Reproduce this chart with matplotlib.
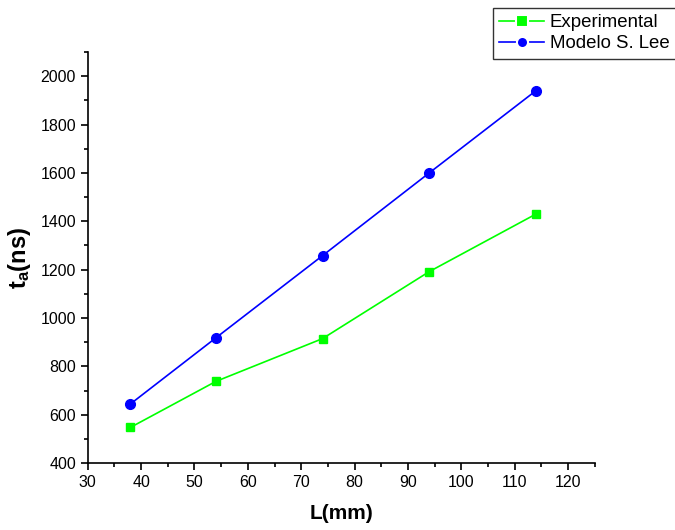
import matplotlib.pyplot as plt
from matplotlib.ticker import MultipleLocator

plt.rcParams['font.family'] = 'Liberation Sans'
plt.rcParams['mathtext.fontset'] = 'custom'
plt.rcParams['mathtext.rm'] = 'Liberation Sans'
plt.rcParams['mathtext.bf'] = 'Liberation Sans:bold'

# data
L_mm = [38, 54, 74, 94, 114]
experimental = [548, 738, 915, 1192, 1430]
modelo_lee = [645, 918, 1258, 1600, 1940]

fig = plt.figure(figsize=(6.75, 5.3), dpi=100)
ax = fig.add_axes([0.130, 0.126, 0.751, 0.776])

ax.plot(L_mm, experimental, color='#00ff00', marker='s', markersize=6,
        linewidth=1.2, label='Experimental')
ax.plot(L_mm, modelo_lee, color='#0000ff', marker='o', markersize=7,
        linewidth=1.2, label='Modelo S. Lee')

ax.set_xlim(30, 125)
ax.set_ylim(400, 2100)
ax.xaxis.set_major_locator(MultipleLocator(10))
ax.xaxis.set_minor_locator(MultipleLocator(5))
ax.yaxis.set_major_locator(MultipleLocator(200))
ax.yaxis.set_minor_locator(MultipleLocator(100))
ax.set_xticks(range(30, 121, 10))

for s in ['top', 'right']:
    ax.spines[s].set_visible(False)
for s in ['left', 'bottom']:
    ax.spines[s].set_linewidth(1.2)
ax.tick_params(which='major', direction='out', length=5, width=1.2, labelsize=11.5)
ax.tick_params(which='minor', direction='out', length=3, width=1.2)

ax.set_xlabel('L(mm)', fontsize=15, fontweight='bold', labelpad=10)
ax.set_ylabel(r'$\mathbf{t_a}$(ns)', fontsize=17, fontweight='bold', labelpad=5)

leg = fig.legend(loc='upper left', bbox_to_anchor=(0.730, 0.985), fontsize=13.4,
                 frameon=True, fancybox=False, edgecolor='black',
                 handlelength=2.4, borderpad=0.35, labelspacing=0.2,
                 handletextpad=0.3, borderaxespad=0)
leg.get_frame().set_linewidth(1.0)
for h in leg.legend_handles:
    h.set_markeredgecolor('white')
    h.set_markeredgewidth(1.5)
    h.set_markersize(8)

fig.savefig('out.png', dpi=100)
